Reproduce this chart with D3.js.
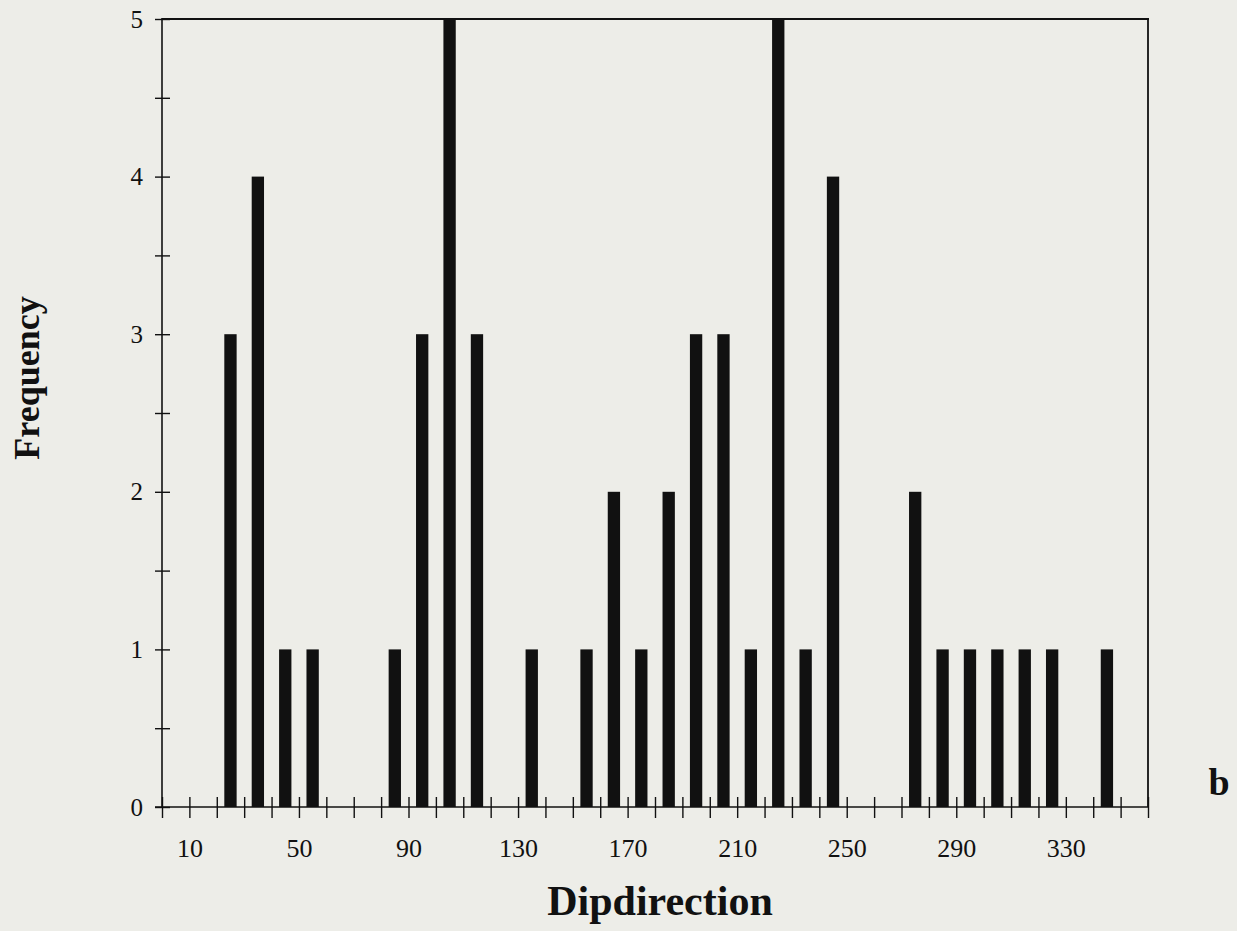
<!DOCTYPE html>
<html>
<head>
<meta charset="utf-8">
<script src="https://cdn.jsdelivr.net/npm/d3@7"></script>
<style>
  html, body { margin: 0; padding: 0; background: #edede8; }
  svg { display: block; }
  text { font-family: "Liberation Serif", "Times New Roman", serif; fill: #111; }
</style>
</head>
<body>
<svg id="chart" width="1237" height="931"></svg>
<script>
// Bin start (degrees) of each 10-degree bin
const binStarts = [0,10,20,30,40,50,60,70,80,90,100,110,120,130,140,150,160,170,
                   180,190,200,210,220,230,240,250,260,270,280,290,300,310,320,330,340,350];
// Frequency in each bin
const frequencies = [0,0,3,4,1,1,0,0,1,3,5,3,0,1,0,1,2,1,
                     2,3,3,1,5,1,4,0,0,2,1,1,1,1,1,0,1,0];
const xTickLabels = [10,50,90,130,170,210,250,290,330];
const yTickLabels = [0,1,2,3,4,5];
const binWidth = 10;

const svg = d3.select("#chart");
const mLeft = 162, mRight = 1148, mTop = 19, mBottom = 807;

const x = d3.scaleLinear().domain([0, 360]).range([mLeft, mRight]);
const y = d3.scaleLinear().domain([0, 5]).range([mBottom, mTop]);

// frame: top and right
svg.append("line").attr("x1", mLeft).attr("x2", mRight + 1).attr("y1", mTop).attr("y2", mTop)
  .attr("stroke", "#111").attr("stroke-width", 2.2);
svg.append("line").attr("x1", mRight).attr("x2", mRight).attr("y1", mTop).attr("y2", mBottom)
  .attr("stroke", "#111").attr("stroke-width", 1.8);

// bars
const barW = (x(binWidth) - x(0)) * 0.45;
svg.append("g").selectAll("rect")
  .data(binStarts.map((s, i) => ({ s, v: frequencies[i] })).filter(d => d.v > 0))
  .join("rect")
  .attr("x", d => x(d.s + binWidth / 2) - barW / 2)
  .attr("width", barW)
  .attr("y", d => y(d.v))
  .attr("height", d => y(0) - y(d.v))
  .attr("fill", "#111");

// x axis
const xAxis = d3.axisBottom(x)
  .tickValues(d3.range(0, 361, 10))
  .tickSize(11)
  .tickPadding(21)
  .tickFormat(d => xTickLabels.includes(d) ? d : "");
const gx = svg.append("g").attr("transform", `translate(0,${mBottom})`).call(xAxis);
gx.attr("font-size", null).attr("font-family", null);
gx.select(".domain").remove();
gx.append("line").attr("x1", 155).attr("x2", mRight).attr("y1", 0).attr("y2", 0)
  .attr("stroke", "#111").attr("stroke-width", 1.6);
gx.selectAll(".tick line").attr("y1", -10).attr("stroke", "#111").attr("stroke-width", 1.4);
gx.selectAll(".tick text").style("font-size", "26px").attr("fill", "#111");

// y axis
const yAxis = d3.axisLeft(y)
  .tickValues(d3.range(0, 5.01, 0.5))
  .tickSize(7)
  .tickPadding(12)
  .tickFormat(d => yTickLabels.includes(d) ? d : "");
const gy = svg.append("g").attr("transform", `translate(${mLeft},0)`).call(yAxis);
gy.attr("font-size", null).attr("font-family", null);
gy.select(".domain").remove();
gy.append("line").attr("x1", 0).attr("x2", 0).attr("y1", mTop - 1).attr("y2", mBottom)
  .attr("stroke", "#111").attr("stroke-width", 1.6);
gy.selectAll(".tick line").attr("x2", 8).attr("x1", -7).attr("stroke", "#111").attr("stroke-width", 1.4);
gy.selectAll(".tick text").style("font-size", "25px").attr("fill", "#111");

// titles
svg.append("text").attr("x", 660).attr("y", 915).attr("text-anchor", "middle")
  .style("font-size", "42px").attr("font-weight", "bold").text("Dipdirection");
svg.append("text").attr("transform", "translate(39,378) rotate(-90)").attr("text-anchor", "middle")
  .style("font-size", "36px").attr("font-weight", "bold").text("Frequency");
svg.append("text").attr("x", 1219).attr("y", 795).attr("text-anchor", "middle")
  .style("font-size", "38px").attr("font-weight", "bold").text("b");
</script>
</body>
</html>
